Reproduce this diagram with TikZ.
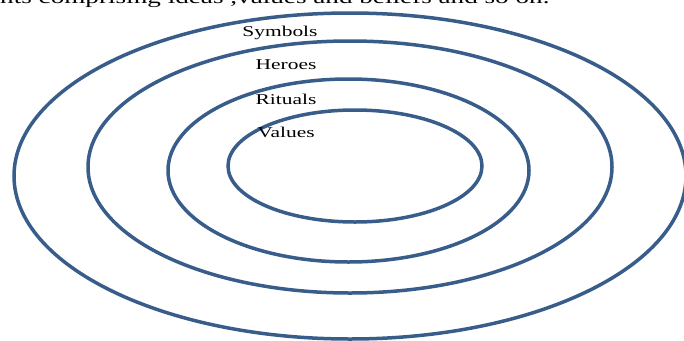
\documentclass[tikz,border=0pt]{standalone}
\usepackage{fontspec}
\usepackage{tikz}
\newfontfamily\ringfont[FakeStretch=1.43]{Liberation Serif}
\definecolor{ringblue}{HTML}{385D8A}
\tikzset{
  ring/.style={draw=ringblue, line width=3.5pt},
  ringlabel/.style={font=\ringfont\fontsize{15}{18}\selectfont,
    inner sep=0pt, anchor=center},
  bodytext/.style={font=\ringfont\fontsize{19}{22}\selectfont,
    inner sep=0pt, anchor=base west},
}
\begin{document}
\begin{tikzpicture}[x=1pt, y=-1pt]
  \useasboundingbox (0,0) rectangle (684,340);
  \clip (0,0) rectangle (684,340);
  % running text of the page, cut by the top edge
  \node[bodytext] (bodyline) at (0,4) {nts comprising ideas ,values and beliefs and so on.};
  % the four layers
  \foreach \cx/\cy/\rx/\ry in {350/176/336/163, 350/167/262/126,
                               348.5/170.5/180.5/91.5, 355/166/127/56}
    \draw[ring] (\cx,\cy) ellipse [x radius=\rx, y radius=\ry];
  \node[ringlabel] (symbols) at (280,33) {Symbols};
  \node[ringlabel] (heroes)  at (286,65) {Heroes};
  \node[ringlabel] (rituals) at (286,99) {Rituals};
  \node[ringlabel] (values)  at (286,132) {Values};
\end{tikzpicture}
\end{document}
